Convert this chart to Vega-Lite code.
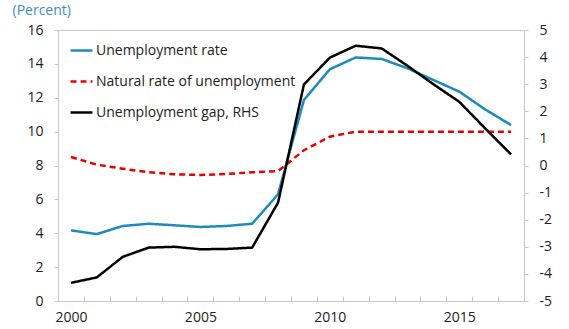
{
  "$schema": "https://vega.github.io/schema/vega-lite/v6.json",
  "width": 466,
  "height": 271,
  "autosize": {"type": "none"},
  "padding": {"left": 58, "top": 30, "right": 45, "bottom": 28},
  "background": "white",
  "config": {
    "font": "Open Sans",
    "view": {"stroke": "#C8C8C8", "strokeWidth": 1},
    "axis": {"labelFont": "Open Sans", "labelFontSize": 14, "labelColor": "#222222", "domainColor": "#C8C8C8", "tickColor": "#C8C8C8", "grid": false}
  },
  "data": {
    "values": [
      {"year": 2000, "series": "Unemployment rate", "value": 4.17},
      {"year": 2001, "series": "Unemployment rate", "value": 3.95},
      {"year": 2002, "series": "Unemployment rate", "value": 4.43},
      {"year": 2003, "series": "Unemployment rate", "value": 4.56},
      {"year": 2004, "series": "Unemployment rate", "value": 4.47},
      {"year": 2005, "series": "Unemployment rate", "value": 4.37},
      {"year": 2006, "series": "Unemployment rate", "value": 4.43},
      {"year": 2007, "series": "Unemployment rate", "value": 4.56},
      {"year": 2008, "series": "Unemployment rate", "value": 6.3},
      {"year": 2009, "series": "Unemployment rate", "value": 11.87},
      {"year": 2010, "series": "Unemployment rate", "value": 13.68},
      {"year": 2011, "series": "Unemployment rate", "value": 14.38},
      {"year": 2012, "series": "Unemployment rate", "value": 14.29},
      {"year": 2013, "series": "Unemployment rate", "value": 13.74},
      {"year": 2014, "series": "Unemployment rate", "value": 13.05},
      {"year": 2015, "series": "Unemployment rate", "value": 12.36},
      {"year": 2016, "series": "Unemployment rate", "value": 11.31},
      {"year": 2017, "series": "Unemployment rate", "value": 10.39},
      {"year": 2000, "series": "Natural rate of unemployment", "value": 8.5},
      {"year": 2001, "series": "Natural rate of unemployment", "value": 8.05},
      {"year": 2002, "series": "Natural rate of unemployment", "value": 7.81},
      {"year": 2003, "series": "Natural rate of unemployment", "value": 7.6},
      {"year": 2004, "series": "Natural rate of unemployment", "value": 7.48},
      {"year": 2005, "series": "Natural rate of unemployment", "value": 7.44},
      {"year": 2006, "series": "Natural rate of unemployment", "value": 7.5},
      {"year": 2007, "series": "Natural rate of unemployment", "value": 7.6},
      {"year": 2008, "series": "Natural rate of unemployment", "value": 7.67},
      {"year": 2009, "series": "Natural rate of unemployment", "value": 8.9},
      {"year": 2010, "series": "Natural rate of unemployment", "value": 9.7},
      {"year": 2011, "series": "Natural rate of unemployment", "value": 10.0},
      {"year": 2012, "series": "Natural rate of unemployment", "value": 10.0},
      {"year": 2013, "series": "Natural rate of unemployment", "value": 10.0},
      {"year": 2014, "series": "Natural rate of unemployment", "value": 10.0},
      {"year": 2015, "series": "Natural rate of unemployment", "value": 10.0},
      {"year": 2016, "series": "Natural rate of unemployment", "value": 10.0},
      {"year": 2017, "series": "Natural rate of unemployment", "value": 10.0},
      {"year": 2000, "series": "Unemployment gap, RHS", "value": -4.33},
      {"year": 2001, "series": "Unemployment gap, RHS", "value": -4.13},
      {"year": 2002, "series": "Unemployment gap, RHS", "value": -3.37},
      {"year": 2003, "series": "Unemployment gap, RHS", "value": -3.03},
      {"year": 2004, "series": "Unemployment gap, RHS", "value": -3.0},
      {"year": 2005, "series": "Unemployment gap, RHS", "value": -3.09},
      {"year": 2006, "series": "Unemployment gap, RHS", "value": -3.08},
      {"year": 2007, "series": "Unemployment gap, RHS", "value": -3.03},
      {"year": 2008, "series": "Unemployment gap, RHS", "value": -1.37},
      {"year": 2009, "series": "Unemployment gap, RHS", "value": 2.99},
      {"year": 2010, "series": "Unemployment gap, RHS", "value": 3.98},
      {"year": 2011, "series": "Unemployment gap, RHS", "value": 4.42},
      {"year": 2012, "series": "Unemployment gap, RHS", "value": 4.32},
      {"year": 2013, "series": "Unemployment gap, RHS", "value": 3.68},
      {"year": 2014, "series": "Unemployment gap, RHS", "value": 3.0},
      {"year": 2015, "series": "Unemployment gap, RHS", "value": 2.35},
      {"year": 2016, "series": "Unemployment gap, RHS", "value": 1.37},
      {"year": 2017, "series": "Unemployment gap, RHS", "value": 0.41}
    ]
  },
  "encoding": {
    "x": {
      "field": "year",
      "type": "ordinal",
      "scale": {"type": "band", "paddingInner": 0, "paddingOuter": 0},
      "axis": {
        "title": null,
        "labelAngle": 0,
        "labelExpr": "datum.value % 5 == 0 ? datum.value : ''",
        "tickBand": "extent",
        "tickSize": -5,
        "labelPadding": 14,
        "domain": true
      }
    },
    "color": {
      "field": "series",
      "type": "nominal",
      "scale": {
        "domain": ["Unemployment rate", "Natural rate of unemployment", "Unemployment gap, RHS"],
        "range": ["#1A8BBE", "#E60000", "#000000"]
      },
      "legend": {
        "title": null,
        "orient": "none",
        "legendX": 11,
        "legendY": 8,
        "symbolType": "stroke",
        "symbolSize": 480,
        "symbolStrokeWidth": 2.5,
        "labelFontSize": 14,
        "labelFont": "Open Sans",
        "labelColor": "#222222",
        "labelOffset": 2,
        "rowPadding": 11,
        "labelLimit": 400
      }
    },
    "strokeDash": {
      "field": "series",
      "type": "nominal",
      "scale": {
        "domain": ["Unemployment rate", "Natural rate of unemployment", "Unemployment gap, RHS"],
        "range": [[1, 0], [6, 4], [1, 0]]
      },
      "legend": {
        "title": null,
        "orient": "none",
        "legendX": 11,
        "legendY": 8,
        "symbolType": "stroke",
        "symbolSize": 480,
        "symbolStrokeWidth": 2.5,
        "labelFontSize": 14,
        "labelFont": "Open Sans",
        "labelColor": "#222222",
        "labelOffset": 2,
        "rowPadding": 11,
        "labelLimit": 400
      }
    }
  },
  "layer": [
    {
      "transform": [{"filter": "datum.series != 'Unemployment gap, RHS'"}],
      "mark": {"type": "line", "strokeWidth": 2.5},
      "encoding": {
        "y": {
          "field": "value",
          "type": "quantitative",
          "scale": {"domain": [0, 16], "nice": false, "zero": false},
          "axis": {
            "values": [0, 2, 4, 6, 8, 10, 12, 14, 16],
            "tickSize": 4,
            "labelPadding": 11,
            "title": "(Percent)",
            "titleAngle": 0,
            "titleAlign": "left",
            "titleBaseline": "middle",
            "titleX": -46,
            "titleY": -20,
            "titleFont": "Open Sans",
            "titleFontSize": 14,
            "titleFontWeight": "normal",
            "titleColor": "#3C8DD0"
          }
        }
      }
    },
    {
      "transform": [{"filter": "datum.series == 'Unemployment gap, RHS'"}],
      "mark": {"type": "line", "strokeWidth": 2.5},
      "encoding": {
        "y": {
          "field": "value",
          "type": "quantitative",
          "scale": {"domain": [-5, 5], "nice": false, "zero": false},
          "axis": {
            "orient": "right",
            "values": [-5, -4, -3, -2, -1, 0, 1, 2, 3, 4, 5],
            "labelExpr": "'' + datum.value",
            "tickSize": 4,
            "labelPadding": 11,
            "title": null
          }
        }
      }
    }
  ],
  "resolve": {"scale": {"y": "independent"}}
}
